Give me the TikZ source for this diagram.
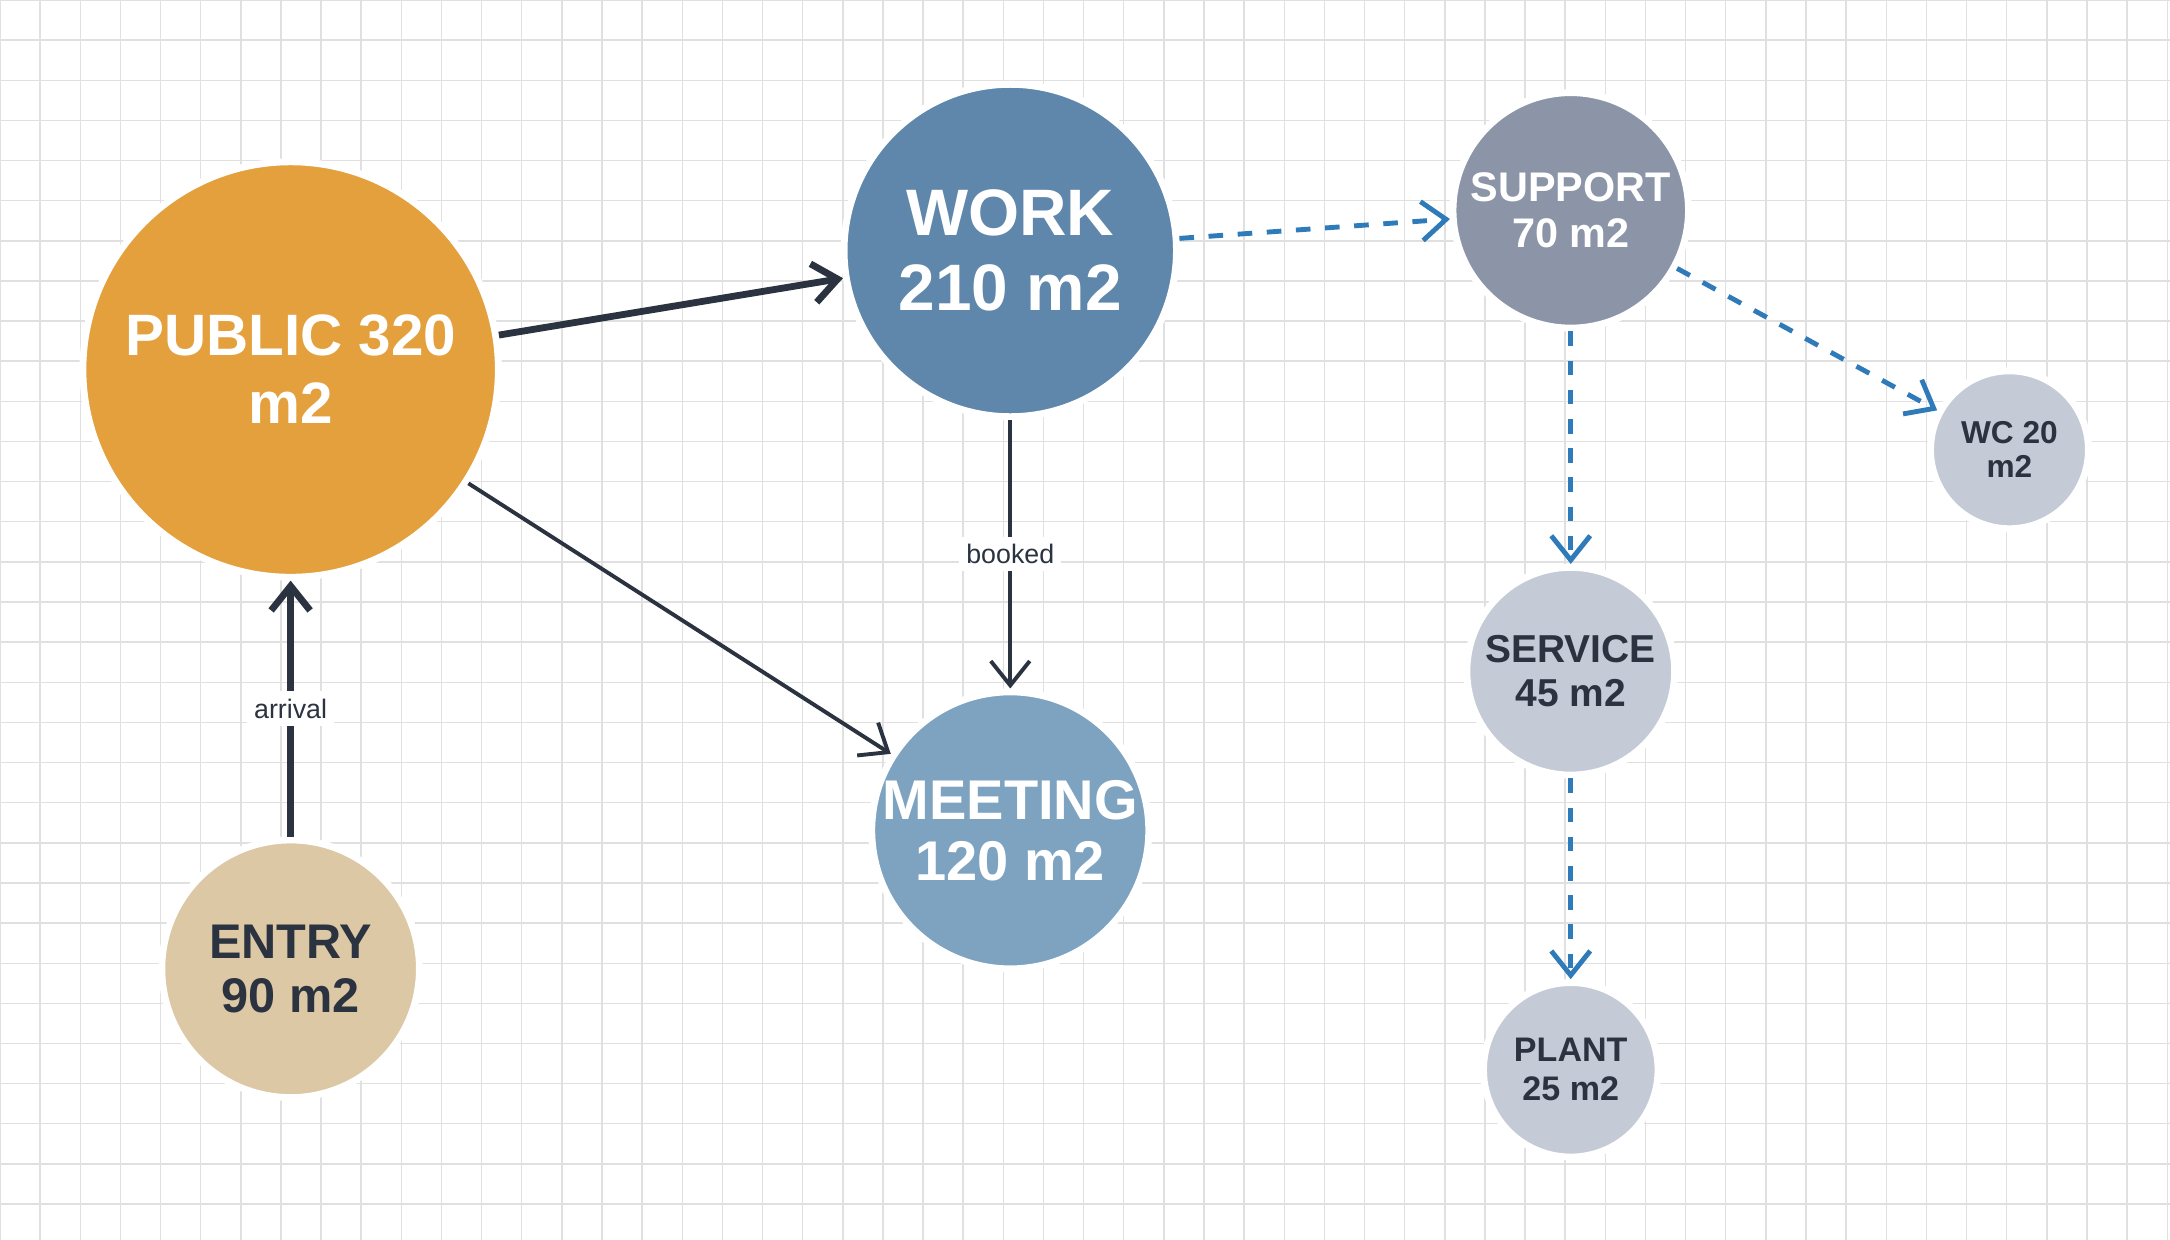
\documentclass[tikz,border=0pt]{standalone}
\usepackage{fontspec}
\setmainfont{Liberation Sans}
\usetikzlibrary{arrows.meta}
\definecolor{cPublic}{HTML}{E3A03D}
\definecolor{cWork}{HTML}{5E87AB}
\definecolor{cMeet}{HTML}{7EA3C0}
\definecolor{cSupport}{HTML}{8C95A8}
\definecolor{cLight}{HTML}{C5CBD6}
\definecolor{cEntry}{HTML}{DCC8A4}
\definecolor{cInk}{HTML}{2B3340}
\definecolor{cDash}{HTML}{2F7AB8}
\begin{document}
\begin{tikzpicture}
		[
		x=0.01cm, y=-0.01cm, >={Straight Barb[length=5pt,width=8pt]},
		room/.style={circle, draw=white, line width=1.4pt, font=\bfseries, align=center, inner sep=0pt},
		link/.style={->, cInk, line width=1pt},
		aux/.style={->, cDash, dashed, line width=1pt},
		tag/.style={fill=white, font=\fontsize{5.5}{6}\selectfont, text=cInk, inner sep=1.5pt}
		]
		
		%Raster im Hintergrund
		\useasboundingbox (0,0) rectangle (1568,896);
		\fill[white] (0,0) rectangle (1568,896);
		\foreach \x in {0,29,...,1568}
		\draw[black!12, line width=0.3pt] (\x,0) -- (\x,896);
		\foreach \y in {0,29,...,896}
		\draw[black!12, line width=0.3pt] (0,\y) -- (1568,\y);
		
		%Räume
		\node[room, fill=cPublic, text=white, minimum size=3cm, font=\bfseries\fontsize{12}{14}\selectfont] (public) at (210,267) {PUBLIC 320\\m2};
		\node[room, fill=cWork, text=white, minimum size=2.4cm, font=\bfseries\fontsize{13.5}{15.5}\selectfont] (work) at (730,181) {WORK\\210 m2};
		\node[room, fill=cMeet, text=white, minimum size=2cm, font=\bfseries\fontsize{11.5}{12.5}\selectfont] (meeting) at (730,600) {MEETING\\120 m2};
		\node[room, fill=cEntry, text=cInk, minimum size=1.86cm, font=\bfseries\fontsize{10}{11}\selectfont] (entry) at (210,700) {ENTRY\\90 m2};
		\node[room, fill=cSupport, text=white, minimum size=1.7cm, font=\bfseries\fontsize{8.5}{9.5}\selectfont] (support) at (1135,152) {SUPPORT\\70 m2};
		\node[room, fill=cLight, text=cInk, minimum size=1.14cm, font=\bfseries\fontsize{6.5}{7}\selectfont] (wc) at (1452,325) {WC 20\\m2};
		\node[room, fill=cLight, text=cInk, minimum size=1.5cm, font=\bfseries\fontsize{8}{9}\selectfont] (service) at (1135,485) {SERVICE\\45 m2};
		\node[room, fill=cLight, text=cInk, minimum size=1.26cm, font=\bfseries\fontsize{7}{8}\selectfont] (plant) at (1135,773) {PLANT\\25 m2};
		
		%Verbindungen
		\draw[link, line width=1.4pt] (public) -- (work);
		\draw[link, line width=0.8pt] (public) -- (meeting);
		\draw[link, line width=0.8pt] (work) -- node[tag] {booked} (meeting);
		\draw[link, line width=1.4pt] (entry) -- node[tag] {arrival} (public);
		\draw[aux] (work) -- (support);
		\draw[aux] (support) -- (wc);
		\draw[aux] (support) -- (service);
		\draw[aux] (service) -- (plant);
	\end{tikzpicture}
\end{document}
